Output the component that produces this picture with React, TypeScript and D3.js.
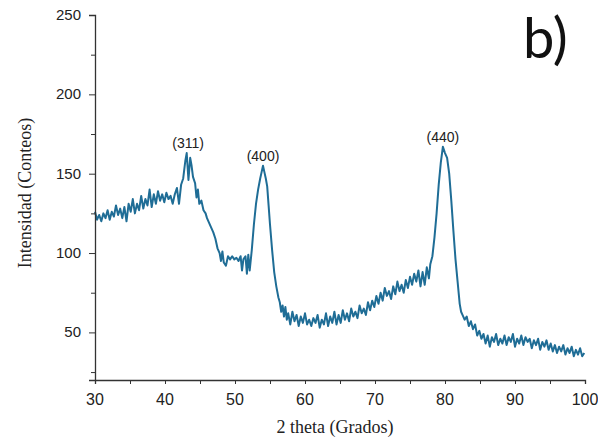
import React, { useEffect, useRef } from 'react';
import * as d3 from 'd3';

// XRD pattern: [2 theta, intensity]
const pattern: [number, number][] = [
    [30.0, 126], [30.3, 121], [30.6, 124], [30.9, 120], [31.2, 125], [31.5, 122], [31.8, 127], [32.1, 121],
    [32.4, 126], [32.7, 123], [33.0, 130], [33.3, 124], [33.6, 128], [33.9, 122], [34.2, 129], [34.5, 120],
    [34.8, 131], [35.1, 126], [35.4, 134], [35.7, 125], [36.0, 131], [36.3, 127], [36.6, 136], [36.9, 128],
    [37.2, 134], [37.5, 130], [37.8, 140], [38.1, 129], [38.4, 137], [38.7, 131], [39.0, 139], [39.3, 133],
    [39.6, 137], [39.9, 132], [40.2, 138], [40.5, 134], [40.8, 136], [41.1, 131], [41.4, 137], [41.7, 141],
    [42.0, 131], [42.3, 143], [42.6, 147], [42.9, 158], [43.1, 163], [43.35, 146], [43.6, 160], [43.8, 155],
    [44.0, 148], [44.3, 144], [44.5, 135], [44.7, 140], [44.9, 131], [45.2, 133], [45.5, 127], [45.8, 125],
    [46.0, 122], [46.3, 119], [46.6, 116], [46.9, 113], [47.2, 109], [47.5, 103], [47.8, 100], [48.0, 95],
    [48.2, 101], [48.4, 94], [48.7, 92], [49.0, 98], [49.3, 96], [49.6, 98], [49.9, 96], [50.2, 97],
    [50.5, 95], [50.8, 98], [51.0, 89], [51.2, 96], [51.5, 98], [51.7, 87], [51.9, 99], [52.1, 89],
    [52.4, 102], [52.7, 118], [53.0, 131], [53.3, 140], [53.6, 147], [53.8, 151], [54.0, 155], [54.2, 151],
    [54.4, 147], [54.6, 142], [54.8, 130], [55.0, 118], [55.3, 102], [55.6, 88], [55.9, 79], [56.2, 72],
    [56.4, 69], [56.6, 63], [56.8, 67], [57.0, 60], [57.2, 66], [57.4, 58], [57.6, 62], [57.9, 55],
    [58.2, 63], [58.5, 57], [58.8, 61], [59.1, 54], [59.4, 60], [59.7, 56], [60.0, 62], [60.3, 55],
    [60.6, 58], [60.9, 54], [61.2, 59], [61.5, 56], [61.8, 61], [62.1, 53], [62.4, 58], [62.7, 55],
    [63.0, 62], [63.3, 54], [63.6, 60], [63.9, 56], [64.2, 63], [64.5, 55], [64.8, 61], [65.1, 56],
    [65.4, 64], [65.7, 58], [66.0, 62], [66.3, 57], [66.6, 65], [66.9, 60], [67.2, 63], [67.5, 59],
    [67.8, 67], [68.1, 62], [68.4, 65], [68.7, 61], [69.0, 69], [69.3, 64], [69.6, 70], [69.9, 66],
    [70.2, 73], [70.5, 68], [70.8, 75], [71.1, 70], [71.4, 78], [71.7, 73], [72.0, 76], [72.3, 71],
    [72.6, 79], [72.9, 74], [73.2, 82], [73.5, 76], [73.8, 80], [74.1, 75], [74.4, 83], [74.7, 78],
    [75.0, 85], [75.3, 80], [75.6, 87], [75.9, 82], [76.2, 89], [76.5, 79], [76.8, 88], [77.1, 80],
    [77.4, 91], [77.7, 84], [77.9, 93], [78.2, 98], [78.5, 110], [78.8, 125], [79.1, 143], [79.4, 157],
    [79.7, 167], [80.0, 163], [80.3, 160], [80.6, 150], [80.9, 133], [81.2, 114], [81.5, 96], [81.8, 82],
    [82.1, 68], [82.3, 63], [82.5, 61], [82.8, 58], [83.1, 60], [83.4, 54], [83.7, 57], [84.0, 52],
    [84.3, 55], [84.6, 48], [84.9, 51], [85.2, 46], [85.5, 49], [85.8, 43], [86.1, 48], [86.4, 41],
    [86.7, 47], [87.0, 44], [87.3, 49], [87.6, 42], [87.9, 46], [88.2, 43], [88.5, 48], [88.8, 42],
    [89.1, 47], [89.4, 44], [89.7, 49], [90.0, 41], [90.3, 46], [90.6, 43], [90.9, 48], [91.2, 42],
    [91.5, 47], [91.8, 44], [92.1, 46], [92.4, 40], [92.7, 45], [93.0, 42], [93.3, 46], [93.6, 39],
    [93.9, 44], [94.2, 41], [94.5, 45], [94.8, 39], [95.1, 43], [95.4, 38], [95.7, 42], [96.0, 37],
    [96.3, 41], [96.6, 38], [96.9, 42], [97.2, 36], [97.5, 40], [97.8, 37], [98.1, 41], [98.4, 35],
    [98.7, 39], [99.0, 36], [99.3, 40], [99.6, 35], [99.9, 37],
];

// Miller indices of the labelled peaks
const peaks: { label: string; theta: number; top: number }[] = [
    { label: "(311)", theta: 43.3, top: 163 },
    { label: "(400)", theta: 54.0, top: 155 },
    { label: "(440)", theta: 79.7, top: 167 },
];

const xTicks = [30, 40, 50, 60, 70, 80, 90, 100];
const yTicks = [50, 100, 150, 200, 250];

const App = () => {
    const svgRef = useRef<SVGSVGElement>(null);

    useEffect(() => {
        const width = 598;
        const height = 440;
        const margin = { top: 15, right: 13, bottom: 60, left: 95 };

        d3.select(svgRef.current).selectAll("*").remove();

        const svg = d3.select(svgRef.current)
            .attr("width", width)
            .attr("height", height)
            .attr("viewBox", `0 0 ${width} ${height}`);

        svg.append("rect").attr("width", width).attr("height", height).attr("fill", "#fff");

        const x = d3.scaleLinear().domain([30, 100]).range([margin.left, width - margin.right]);
        const y = d3.scaleLinear().domain([20, 250]).range([height - margin.bottom, margin.top]);

        // pattern line
        const line = d3.line<[number, number]>()
            .x(d => x(d[0]))
            .y(d => y(d[1]));

        svg.append("path")
            .datum(pattern)
            .attr("fill", "none")
            .attr("stroke", "#1f6d96")
            .attr("stroke-width", 2)
            .attr("stroke-linejoin", "round")
            .attr("d", line);

        // axes
        const xAxis = svg.append("g")
            .attr("transform", `translate(0,${y(20)})`)
            .call(d3.axisBottom(x).tickValues(d3.range(30, 101, 5)).tickSize(4).tickFormat(() => ""));
        xAxis.selectAll("line").attr("stroke", "#333");
        xAxis.select(".domain").attr("stroke", "#333").attr("stroke-width", 1.3);

        svg.append("g")
            .selectAll("text")
            .data(xTicks)
            .join("text")
            .attr("x", d => x(d))
            .attr("y", y(20) + 25)
            .attr("text-anchor", "middle")
            .attr("font-family", "Liberation Sans, Arial, sans-serif")
            .attr("font-size", 16)
            .attr("fill", "#222")
            .text(d => d);

        const yAxis = svg.append("g")
            .attr("transform", `translate(${x(30)},0)`)
            .call(d3.axisLeft(y).tickValues(d3.range(25, 251, 25)).tickSize(6).tickFormat(() => ""));
        yAxis.selectAll("line").attr("stroke", "#333");
        yAxis.selectAll(".tick")
            .filter(d => (d as number) % 50 !== 0)
            .select("line")
            .attr("x2", -4);
        yAxis.select(".domain").attr("stroke", "#333").attr("stroke-width", 1.3);

        svg.append("g")
            .selectAll("text")
            .data(yTicks)
            .join("text")
            .attr("x", x(30) - 14)
            .attr("y", d => y(d) + 5)
            .attr("text-anchor", "end")
            .attr("font-family", "Liberation Sans, Arial, sans-serif")
            .attr("font-size", 15)
            .attr("fill", "#222")
            .text(d => d);

        // axis titles
        svg.append("text")
            .attr("x", 335)
            .attr("y", 433)
            .attr("text-anchor", "middle")
            .attr("font-family", "Liberation Serif, Times New Roman, serif")
            .attr("font-size", 18)
            .attr("fill", "#222")
            .text("2 theta (Grados)");

        svg.append("text")
            .attr("transform", `translate(31,193) rotate(-90)`)
            .attr("text-anchor", "middle")
            .attr("font-family", "Liberation Serif, Times New Roman, serif")
            .attr("font-size", 18)
            .attr("fill", "#222")
            .text("Intensidad (Conteos)");

        // peak labels
        svg.append("g")
            .selectAll("text")
            .data(peaks)
            .join("text")
            .attr("x", d => x(d.theta))
            .attr("y", d => y(d.top) - 5)
            .attr("text-anchor", "middle")
            .attr("font-family", "Liberation Sans, Arial, sans-serif")
            .attr("font-size", 14)
            .attr("fill", "#222")
            .text(d => d.label);

        // panel letter
        svg.append("text")
            .attr("x", 523)
            .attr("y", 58)
            .attr("font-family", "Lato, Open Sans, sans-serif")
            .attr("font-size", 56)
            .attr("fill", "#111")
            .text("b)");
    }, []);

    return (
        <div style={{ position: "absolute", left: 0, top: 0 }}>
            <svg ref={svgRef} style={{ display: "block" }}></svg>
        </div>
    );
};

export default App;
